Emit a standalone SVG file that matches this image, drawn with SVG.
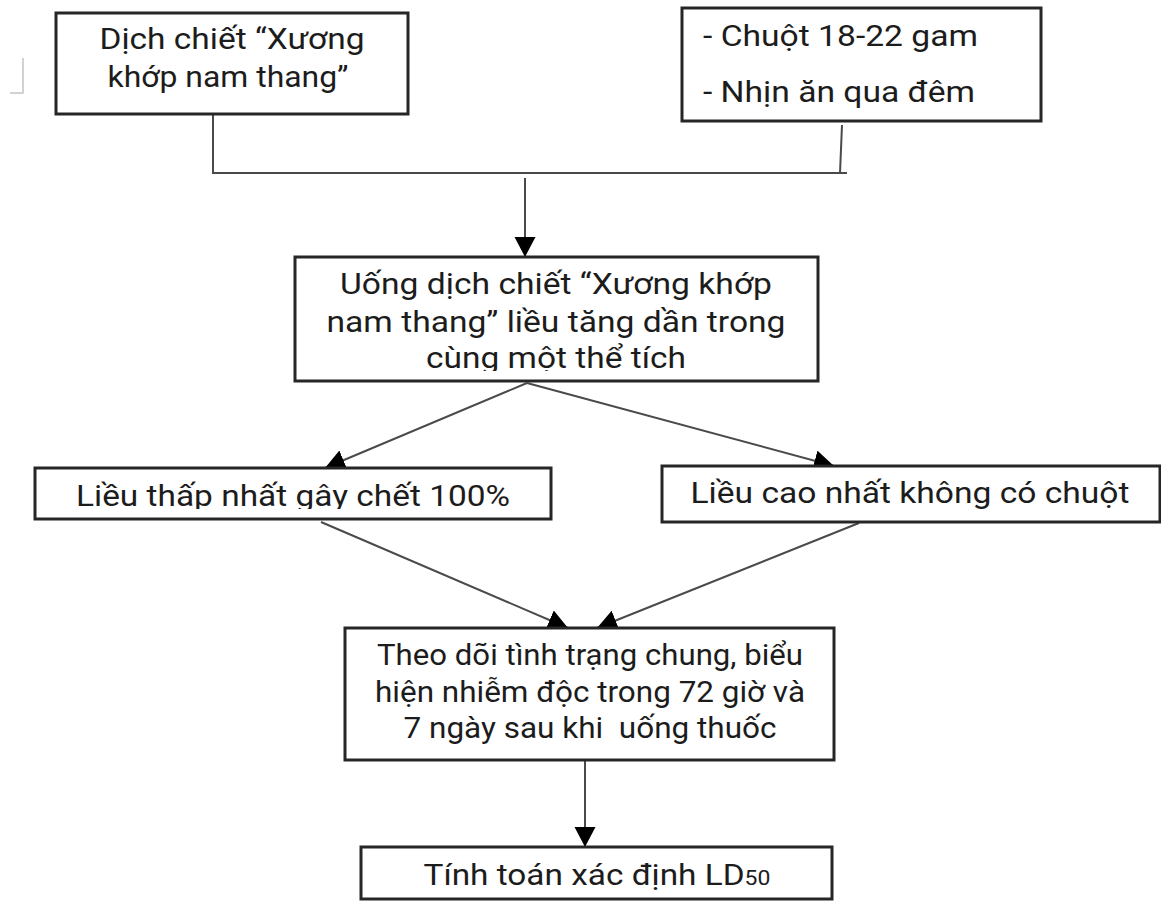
<svg xmlns="http://www.w3.org/2000/svg" width="1161" height="902" viewBox="0 0 1161 902">
<style>
.box{fill:#fff;stroke:#262626;stroke-width:3}
.t{font-family:Roboto,"Noto Sans","Liberation Sans",sans-serif;font-size:29px;fill:#1c1c1c}
.c{text-anchor:middle}
.ln{stroke:#4a4a4a;stroke-width:2;fill:none}
.la{stroke:#4a4a4a;stroke-width:2;fill:none;marker-end:url(#ah)}
</style>
<defs>
<marker id="ah" markerUnits="userSpaceOnUse" markerWidth="21" markerHeight="22" refX="20" refY="10.5" orient="auto">
<path d="M0,0 L20,10.5 L0,21 Z" fill="#000"/>
</marker>
<clipPath id="clip3"><rect x="295" y="257" width="523" height="114"/></clipPath>
<clipPath id="clipL"><rect x="35" y="468" width="516" height="41"/></clipPath>
</defs>
<rect x="0" y="0" width="1161" height="902" fill="#fff"/>
<path d="M23,58 L23,93 L10,93" fill="none" stroke="#c4c4c4" stroke-width="1.5"/>
<g id="connectors">
<path class="ln" d="M213,114 L213,173 L847,173"/>
<path class="ln" d="M842,125 L840,173"/>
<path class="la" d="M525,178 L525,257"/>
<path class="la" d="M527,383 L325,468"/>
<path class="la" d="M527,383 L834,466"/>
<path class="la" d="M321,522 L568,628"/>
<path class="la" d="M859,523 L597,628"/>
<path class="la" d="M585,760 L585,847"/>
</g>
<g id="node-extract">
<rect class="box" x="56" y="13" width="352" height="101"/>
<text class="t c" x="232" y="49" textLength="265" lengthAdjust="spacingAndGlyphs">Dịch chiết “Xương</text>
<text class="t c" x="228" y="87" textLength="241" lengthAdjust="spacingAndGlyphs">khớp nam thang”</text>
</g>
<g id="node-mice">
<rect class="box" x="682" y="8" width="359" height="113"/>
<text class="t" x="703" y="46" textLength="275" lengthAdjust="spacingAndGlyphs">- Chuột 18-22 gam</text>
<text class="t" x="703" y="102" textLength="272" lengthAdjust="spacingAndGlyphs">- Nhịn ăn qua đêm</text>
</g>
<g id="node-dose">
<rect class="box" x="295" y="257" width="523" height="124"/>
<text class="t c" x="556" y="294" textLength="432" lengthAdjust="spacingAndGlyphs">Uống dịch chiết “Xương khớp</text>
<text class="t c" x="556" y="332" textLength="459" lengthAdjust="spacingAndGlyphs">nam thang” liều tăng dần trong</text>
<text class="t c" x="556" y="368" textLength="260" lengthAdjust="spacingAndGlyphs" clip-path="url(#clip3)">cùng một thể tích</text>
</g>
<g id="node-lowest">
<rect class="box" x="35" y="468" width="516" height="51"/>
<text class="t c" x="293" y="506" textLength="434" lengthAdjust="spacingAndGlyphs" clip-path="url(#clipL)">Liều thấp nhất gây chết 100%</text>
</g>
<g id="node-highest">
<rect class="box" x="662" y="466" width="498" height="56"/>
<text class="t c" x="910" y="503" textLength="439" lengthAdjust="spacingAndGlyphs">Liều cao nhất không có chuột</text>
</g>
<g id="node-monitor">
<rect class="box" x="345" y="628" width="489" height="132"/>
<text class="t c" x="590" y="665" textLength="426" lengthAdjust="spacingAndGlyphs">Theo dõi tình trạng chung, biểu</text>
<text class="t c" x="590" y="702" textLength="430" lengthAdjust="spacingAndGlyphs">hiện nhiễm độc trong 72 giờ và</text>
<text class="t c" x="590" y="738" textLength="373" lengthAdjust="spacingAndGlyphs" xml:space="preserve">7 ngày sau khi  uống thuốc</text>
</g>
<g id="node-ld50">
<rect class="box" x="361" y="847" width="471" height="52"/>
<text class="t c" x="597" y="885" textLength="347" lengthAdjust="spacingAndGlyphs">Tính toán xác định LD<tspan font-size="20">50</tspan></text>
</g>
</svg>
